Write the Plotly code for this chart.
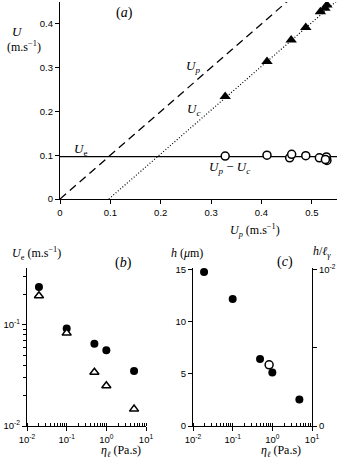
import plotly.graph_objects as go

W, H = 348, 461

# panel (a): velocities
ue = 0.097
line_x = [0, 0.55]
tri_up = [0.328, 0.411, 0.459, 0.488, 0.517, 0.526, 0.530]
tri_uc = [0.234, 0.314, 0.363, 0.392, 0.428, 0.436, 0.443]
circ_up = [0.328, 0.411, 0.456, 0.460, 0.488, 0.515, 0.529, 0.530, 0.527]
circ_diff = [0.098, 0.100, 0.094, 0.102, 0.099, 0.094, 0.096, 0.088, 0.090]

# panel (b): Ue vs viscosity
eta_b = [0.02, 0.1, 0.5, 1.0, 5.0]
ue_filled = [0.237, 0.092, 0.065, 0.056, 0.035]
ue_open = [0.194, 0.083, 0.034, 0.025, 0.0147]

# panel (c): film thickness
eta_c = [0.019, 0.1, 0.49, 1.0, 4.8]
h_filled = [14.8, 12.2, 6.45, 5.14, 2.54]
eta_c_open = [0.83]
h_open = [5.88]

log_vals = [0.01, 0.1, 1, 10]
log_text = ["10<sup>-2</sup>", "10<sup>-1</sup>", "10<sup>0</sup>", "10<sup>1</sup>"]

serif = "Liberation Serif"
sans = "Liberation Sans"
tickfont = dict(family=sans, size=9.5, color="black")


def px(x):
    return x / W


def py(y):
    return 1 - y / H


fig = go.Figure()

# (a)
fig.add_trace(go.Scatter(x=line_x, y=line_x, mode="lines",
                         line=dict(color="black", width=1.3, dash="8px,5px"),
                         xaxis="x", yaxis="y"))
fig.add_trace(go.Scatter(x=[ue, line_x[1]], y=[0, line_x[1] - ue], mode="lines",
                         line=dict(color="black", width=1.2, dash="1px,2px"),
                         xaxis="x", yaxis="y"))
fig.add_trace(go.Scatter(x=line_x, y=[ue, ue], mode="lines",
                         line=dict(color="black", width=1.2),
                         xaxis="x", yaxis="y"))
fig.add_trace(go.Scatter(x=tri_up, y=tri_uc, mode="markers",
                         marker=dict(symbol="triangle-up", size=10, color="black"),
                         xaxis="x", yaxis="y"))
fig.add_trace(go.Scatter(x=circ_up, y=circ_diff, mode="markers",
                         marker=dict(symbol="circle", size=8, color="white",
                                     line=dict(color="black", width=1.5)),
                         xaxis="x", yaxis="y"))

# (b)
fig.add_trace(go.Scatter(x=eta_b, y=ue_filled, mode="markers",
                         marker=dict(symbol="circle", size=8, color="black"),
                         xaxis="x2", yaxis="y2"))
fig.add_trace(go.Scatter(x=eta_b, y=ue_open, mode="markers",
                         marker=dict(symbol="triangle-up", size=8, color="white",
                                     line=dict(color="black", width=1.5)),
                         xaxis="x2", yaxis="y2"))

# (c)
fig.add_trace(go.Scatter(x=eta_c, y=h_filled, mode="markers",
                         marker=dict(symbol="circle", size=8, color="black"),
                         xaxis="x3", yaxis="y3"))
fig.add_trace(go.Scatter(x=eta_c_open, y=h_open, mode="markers",
                         marker=dict(symbol="circle", size=8, color="white",
                                     line=dict(color="black", width=1.5)),
                         xaxis="x3", yaxis="y3"))
fig.add_trace(go.Scatter(x=[0.1], y=[0.005], mode="markers",
                         marker=dict(opacity=0), hoverinfo="skip",
                         xaxis="x3", yaxis="y4"))

ax = dict(showline=True, linecolor="black", linewidth=1.2, ticks="outside",
          ticklen=4, tickwidth=1.2, tickcolor="black", showgrid=False,
          zeroline=False, tickfont=tickfont, automargin=False)
minor_x = dict(ticks="inside", ticklen=3, tickwidth=1, tickcolor="black",
               showgrid=False, dtick="D1")
minor_y = dict(ticks="outside", ticklen=2.5, tickwidth=1, tickcolor="black",
               showgrid=False, dtick="D1")
logx = dict(ax, type="log", range=[-2, 1], tickvals=log_vals, ticktext=log_text,
            minor=minor_x)

fig.update_layout(
    width=W, height=H, margin=dict(l=0, r=0, t=0, b=0),
    paper_bgcolor="white", plot_bgcolor="white", showlegend=False,
    xaxis=dict(ax, domain=[px(60), px(337)], range=[0, 0.55],
               tickvals=[0, 0.1, 0.2, 0.3, 0.4, 0.5], anchor="y"),
    yaxis=dict(ax, domain=[py(199), py(2)], range=[0, 0.45],
               tickvals=[0, 0.1, 0.2, 0.3, 0.4], anchor="x"),
    xaxis2=dict(logx, domain=[px(27), px(146)], anchor="y2"),
    yaxis2=dict(ax, type="log", domain=[py(426), py(268)], range=[-2, -0.437],
                tickvals=log_vals[:2], ticktext=log_text[:2], anchor="x2",
                minor=minor_y),
    xaxis3=dict(logx, domain=[px(193), px(312)], anchor="y3"),
    yaxis3=dict(ax, domain=[py(426), py(268)], range=[0, 15.19],
                tickvals=[0, 5, 10, 15], anchor="x3"),
    yaxis4=dict(ax, overlaying="y3", side="right", anchor="x3",
                range=[0, 0.01 * 15.19 / 15], tickvals=[0, 0.005, 0.01],
                ticktext=["0", "", "10<sup>-2</sup>"]),
)

notes = [
    (125, 13, "(<i>a</i>)", 14),
    (17, 32, "<i>U</i>", 13),
    (24, 46, "(m.s<sup>−1</sup>)", 12),
    (193, 67, "<i>U<sub>p</sub></i>", 13),
    (193, 110, "<i>U<sub>c</sub></i>", 13),
    (80, 149, "<i>U</i><sub>e</sub>", 13),
    (229, 168, "<i>U<sub>p</sub></i> − <i>U<sub>c</sub></i>", 13),
    (255, 230, "<i>U<sub>p</sub></i> (m.s<sup>−1</sup>)", 12),
    (36, 253, "<i>U</i><sub>e</sub> (m.s<sup>−1</sup>)", 12),
    (123, 263, "(<i>b</i>)", 14),
    (121, 451, "<i>η<sub>ℓ</sub></i> (Pa.s)", 12),
    (187, 253, "<i>h</i> (<i>μ</i>m)", 12),
    (285, 262, "(<i>c</i>)", 14),
    (322, 252, "<i>h</i>/<i>ℓ<sub>γ</sub></i>", 12),
    (281, 451, "<i>η<sub>ℓ</sub></i> (Pa.s)", 12),
]
for x, y, t, s in notes:
    fig.add_annotation(x=px(x), y=py(y), xref="paper", yref="paper", text=t,
                       showarrow=False, xanchor="center", yanchor="middle",
                       font=dict(family=serif, size=s, color="black"))

# the page's default body margin would push the fixed-size figure off the window
fig.write_html("out.html", config={"displayModeBar": False},
               post_script="document.body.style.margin='0';")
